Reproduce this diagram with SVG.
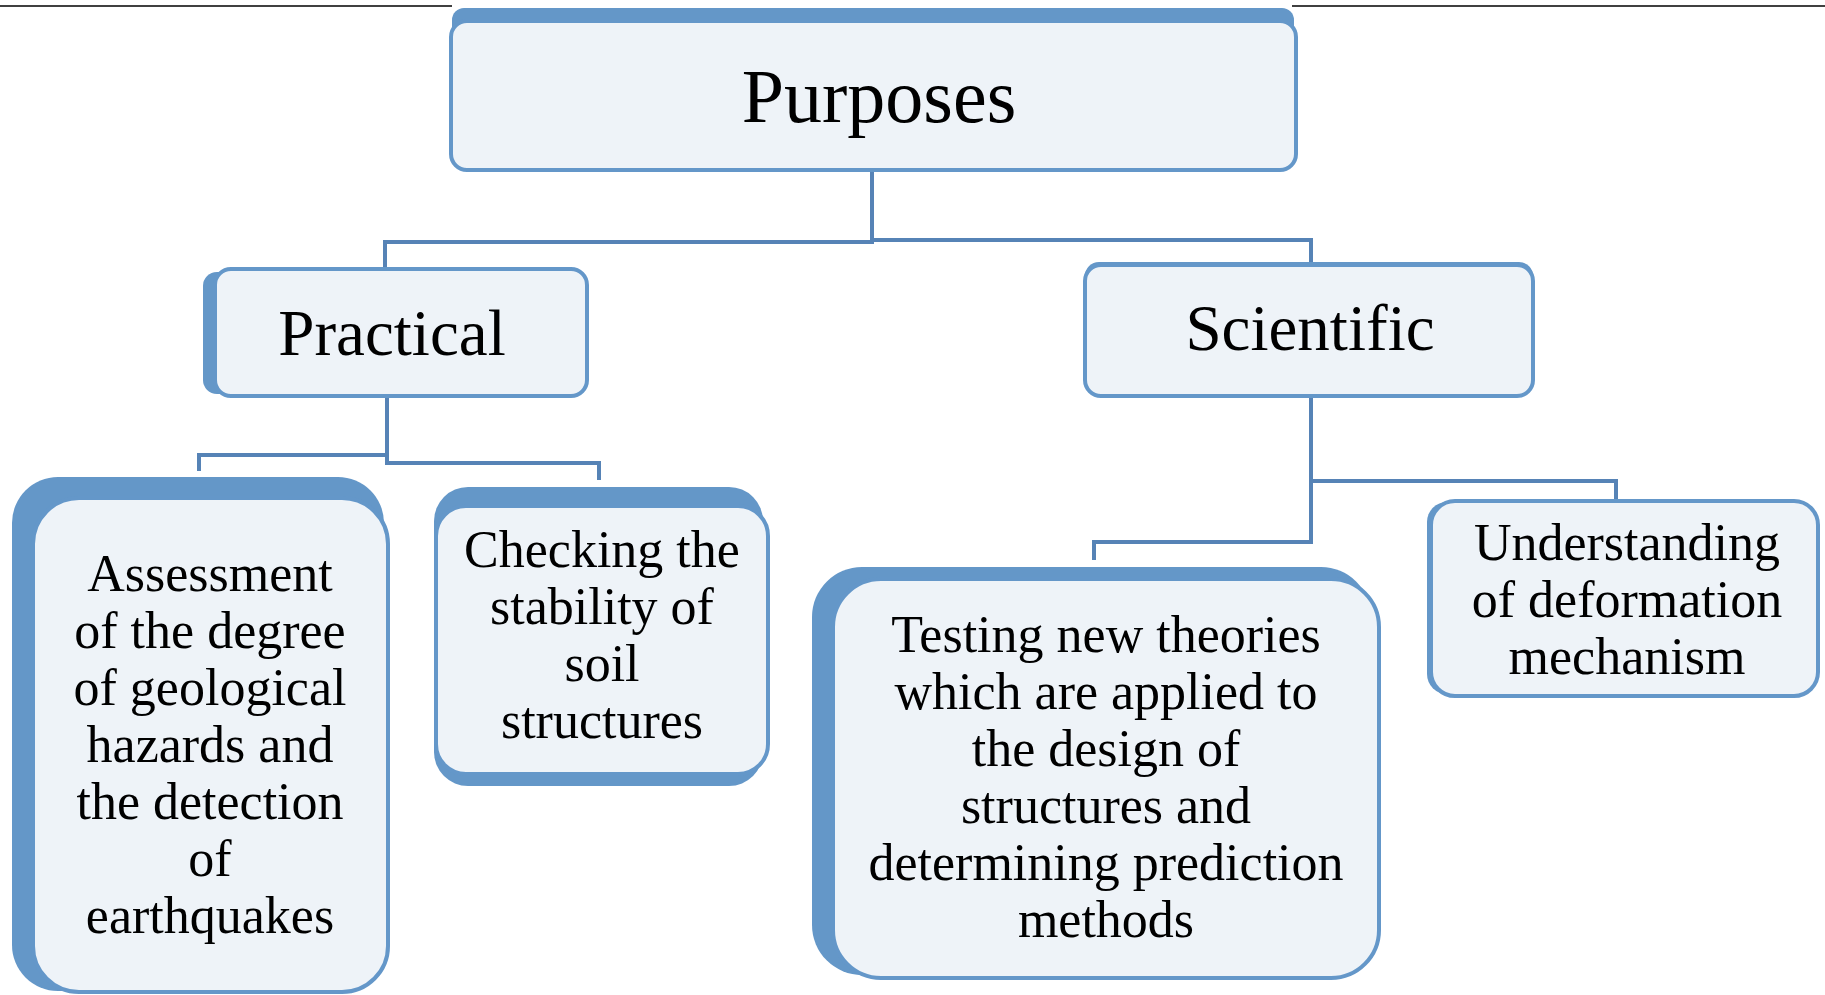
<svg xmlns="http://www.w3.org/2000/svg" width="1825" height="995" viewBox="0 0 1825 995">
<style>
.shadow{fill:#6497C8;stroke:none}
.box{fill:#EEF3F8;stroke:#6497C9;stroke-width:4}
.conn{fill:none;stroke:#5683B6;stroke-width:4;stroke-linejoin:miter}
text{font-family:"Liberation Serif","Times New Roman",serif;fill:#000;text-anchor:middle}
.t1{font-size:76px}
.t2{font-size:65px}
.t3{font-size:52px}
</style>
<rect width="1825" height="995" fill="#fff"/>
<line x1="0" y1="6" x2="452" y2="6" stroke="#000" stroke-width="1.5"/>
<line x1="1292" y1="6" x2="1825" y2="6" stroke="#000" stroke-width="1.5"/>
<g id="connectors">
<polyline class="conn" points="872,170 872,242 385,242 385,268"/>
<polyline class="conn" points="872,240 1311,240 1311,265"/>
<polyline class="conn" points="387,397 387,455 199,455 199,471"/>
<polyline class="conn" points="387,455 387,463 599,463 599,480"/>
<polyline class="conn" points="1311,397 1311,542 1094,542 1094,560"/>
<polyline class="conn" points="1311,481 1616,481 1616,500"/>
</g>
<g id="purposes">
<rect class="shadow" x="452" y="8" width="842" height="60" rx="12"/>
<rect class="box" x="451" y="21" width="845" height="149" rx="16"/>
<text class="t1" x="879" y="122">Purposes</text>
</g>
<g id="practical">
<rect class="shadow" x="203" y="272" width="60" height="122" rx="14"/>
<rect class="box" x="215" y="269" width="372" height="127" rx="16"/>
<text class="t2" x="392" y="355">Practical</text>
</g>
<g id="scientific">
<rect class="shadow" x="1085" y="262" width="448" height="30" rx="14"/>
<rect class="box" x="1085" y="265" width="448" height="131" rx="16"/>
<text class="t2" x="1310" y="350">Scientific</text>
</g>
<g id="assessment">
<rect class="shadow" x="12" y="477" width="372" height="514" rx="46"/>
<rect class="box" x="33" y="498" width="355" height="494" rx="46"/>
<text class="t3" x="210" y="591">Assessment</text>
<text class="t3" x="210" y="648">of the degree</text>
<text class="t3" x="210" y="705">of geological</text>
<text class="t3" x="210" y="762">hazards and</text>
<text class="t3" x="210" y="819">the detection</text>
<text class="t3" x="210" y="876">of</text>
<text class="t3" x="210" y="933">earthquakes</text>
</g>
<g id="checking">
<rect class="shadow" x="434" y="487" width="329" height="299" rx="34"/>
<rect class="box" x="436" y="506" width="332" height="268" rx="30"/>
<text class="t3" x="602" y="567">Checking the</text>
<text class="t3" x="602" y="624">stability of</text>
<text class="t3" x="602" y="681">soil</text>
<text class="t3" x="602" y="738">structures</text>
</g>
<g id="testing">
<rect class="shadow" x="812" y="567" width="559" height="408" rx="50"/>
<rect class="box" x="833" y="579" width="546" height="399" rx="48"/>
<text class="t3" x="1106" y="652">Testing new theories</text>
<text class="t3" x="1106" y="709">which are applied to</text>
<text class="t3" x="1106" y="766">the design of</text>
<text class="t3" x="1106" y="823">structures and</text>
<text class="t3" x="1106" y="880">determining prediction</text>
<text class="t3" x="1106" y="937">methods</text>
</g>
<g id="understanding">
<rect class="shadow" x="1427" y="502" width="40" height="192" rx="20"/>
<rect class="box" x="1431" y="501" width="387" height="195" rx="24"/>
<text class="t3" x="1627" y="560">Understanding</text>
<text class="t3" x="1627" y="617">of deformation</text>
<text class="t3" x="1627" y="674">mechanism</text>
</g>
</svg>
